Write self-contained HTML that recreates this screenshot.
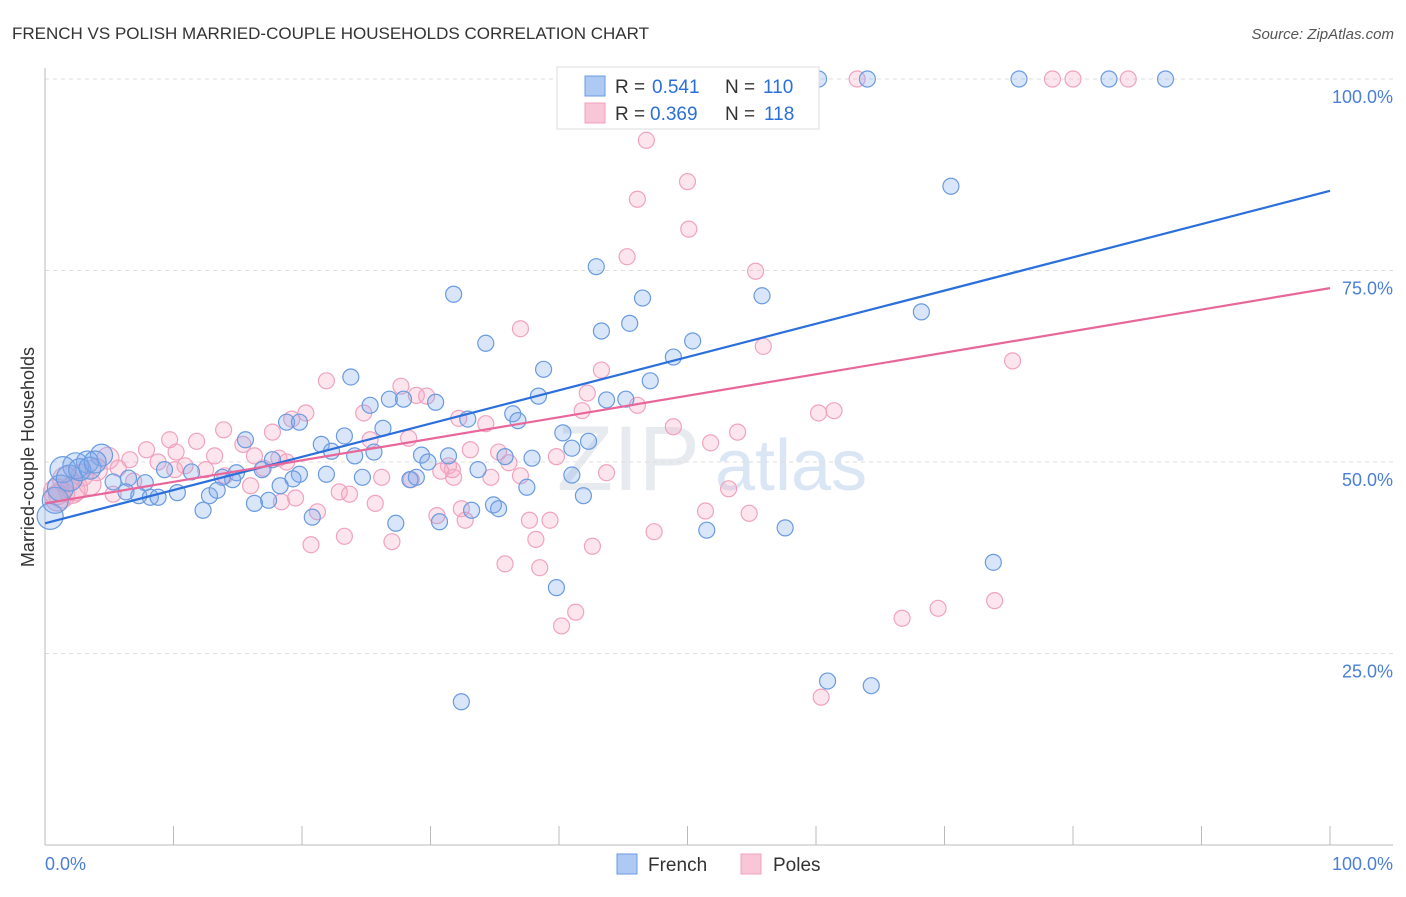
<!DOCTYPE html>
<html><head><meta charset="utf-8">
<style>
body{margin:0;background:#fff;font-family:"Liberation Sans",sans-serif;}
svg text{font-family:"Liberation Sans",sans-serif;}
</style></head>
<body>
<svg id="chart" width="1406" height="892" viewBox="0 0 1406 892" xmlns="http://www.w3.org/2000/svg">
<text x="12" y="39" font-size="17" fill="#333">FRENCH VS POLISH MARRIED-COUPLE HOUSEHOLDS CORRELATION CHART</text>
<text x="1394" y="39" font-size="15" fill="#555" text-anchor="end" font-style="italic">Source: ZipAtlas.com</text>
<text x="700" y="490" font-size="92" fill="#d8dde6" text-anchor="end" font-family="Liberation Serif" opacity="0.6">ZIP</text>
<text x="715" y="490" font-size="72" fill="#c4d6ef" opacity="0.6">atlas</text>
<g id="grid"></g>
<g id="axes"></g>
<g id="pts"></g>
<g id="lines"></g>
<text transform="translate(34,457) rotate(-90)" font-size="18" fill="#333" text-anchor="middle">Married-couple Households</text>
<g>
<rect x="557" y="67" width="262" height="62" fill="#fff" stroke="#ddd"/>
<rect x="585" y="76" width="20" height="20" fill="#aecaf3" stroke="#6a9be0"/>
<text x="615" y="93" font-size="19" fill="#333">R =</text>
<text x="652" y="93" font-size="19" fill="#2a6fdb">0.541</text>
<text x="725" y="93" font-size="19" fill="#333">N =</text>
<text x="763" y="93" font-size="19" fill="#2a6fdb">110</text>
<rect x="585" y="103" width="20" height="20" fill="#f8c6d6" stroke="#f0a0bc"/>
<text x="615" y="120" font-size="19" fill="#333">R =</text>
<text x="650" y="120" font-size="19" fill="#2a6fdb">0.369</text>
<text x="725" y="120" font-size="19" fill="#333">N =</text>
<text x="764" y="120" font-size="19" fill="#2a6fdb">118</text>
</g>
<g>
<rect x="617" y="854" width="20" height="20" fill="#aecaf3" stroke="#6a9be0"/>
<text x="648" y="871" font-size="19" fill="#333">French</text>
<rect x="741" y="854" width="20" height="20" fill="#f8c6d6" stroke="#f0a0bc"/>
<text x="773" y="871" font-size="19" fill="#333">Poles</text>
</g>
</svg>
<script>
const yTicks=[25,50,75,100];
const yTickLabels=["25.0%","50.0%","75.0%","100.0%"];
const xEndLabels=["0.0%","100.0%"];
const frenchX=[60.2,64.0,75.8,82.8,87.2,52.4,70.5,42.9,31.8,46.5,55.8,68.2,45.5,43.3,34.3,50.4,48.9,38.8,23.8,47.1,38.4,26.8,27.9,30.4,25.3,43.7,45.2,18.8,19.8,36.4,36.8,32.9,26.3,23.3,15.6,21.5,40.3,42.3,41.0,22.3,24.1,25.6,29.3,31.4,37.9,29.8,35.8,4.4,3.3,2.4,1.4,17.7,16.9,9.3,11.4,14.9,19.8,21.9,14.6,24.7,28.4,28.9,33.7,41.0,13.8,7.8,5.3,6.5,18.3,19.3,10.3,6.3,7.3,8.2,8.8,12.8,13.4,17.4,16.3,12.3,37.5,41.9,34.9,35.3,33.2,20.8,27.3,30.7,51.5,57.6,73.8,39.8,60.9,64.3,32.4,0.4,0.8,1.2,1.9,2.7,3.5,3.9];
const frenchY=[100,100,100,100,100,100,86.0,75.5,71.9,71.4,71.7,69.6,68.1,67.1,65.5,65.8,63.7,62.1,61.1,60.6,58.6,58.2,58.2,57.8,57.4,58.1,58.2,55.2,55.2,56.3,55.4,55.6,54.4,53.4,52.9,52.3,53.8,52.7,51.8,51.4,50.8,51.3,50.9,50.8,50.5,50.0,50.7,50.9,50.0,49.5,49.0,50.3,49.0,49.0,48.7,48.6,48.4,48.4,47.7,48.0,47.7,48.0,49.0,48.3,48.0,47.3,47.4,47.9,46.9,47.8,46.0,46.1,45.6,45.4,45.4,45.6,46.3,45.0,44.6,43.7,46.7,45.6,44.4,43.9,43.7,42.8,42.0,42.2,41.1,41.4,36.9,33.6,21.4,20.8,18.7,42.9,45.0,46.6,47.9,49.0,49.2,50.0];
const polesX=[63.2,78.4,80.0,84.3,54.1,46.8,50.0,46.1,50.1,45.3,55.3,37.0,55.9,43.3,75.3,21.9,27.7,28.9,29.7,42.2,46.1,41.8,61.4,60.2,20.3,24.8,19.2,32.2,34.3,48.9,53.9,13.9,17.7,28.3,25.3,9.7,11.8,15.4,7.9,10.2,51.8,33.1,35.3,39.8,36.1,13.2,16.3,18.2,18.8,6.6,4.9,5.7,8.8,10.1,10.9,12.5,31.4,31.7,30.8,31.8,34.7,37.0,43.7,26.2,28.5,17.0,14.0,4.0,2.9,1.6,6.9,2.3,0.9,1.0,5.3,16.0,22.9,23.7,19.5,25.7,18.4,53.2,32.4,51.4,54.8,30.5,32.7,37.7,39.3,21.2,47.4,23.3,27.0,38.2,20.7,42.6,35.8,38.5,41.3,40.2,66.7,69.5,73.9,60.4,2.1,1.3,3.5];
const polesY=[100,100,100,100,100,92.0,86.6,84.3,80.4,76.8,74.9,67.4,65.1,62.0,63.2,60.6,59.9,58.7,58.6,59.0,57.4,56.7,56.7,56.4,56.4,56.4,55.6,55.7,55.0,54.6,53.9,54.2,53.9,53.1,52.9,52.9,52.7,52.3,51.6,51.3,52.5,51.6,51.3,50.7,49.9,50.8,50.8,50.5,50.0,50.3,50.5,49.2,50.0,49.0,49.5,49.0,49.5,49.0,48.8,48.0,48.0,48.2,48.6,48.0,47.7,49.2,48.2,49.0,48.3,47.7,47.5,46.6,46.1,45.3,45.8,46.9,46.1,45.8,45.3,44.6,44.8,46.5,43.9,43.6,43.3,43.0,42.4,42.4,42.4,43.5,40.9,40.3,39.6,39.9,39.2,39.0,36.7,36.2,30.4,28.6,29.6,30.9,31.9,19.3,46.3,45.7,47.1];
const frenchTrend=[42.0,85.4];
const polesTrend=[44.6,72.7];

const NS="http://www.w3.org/2000/svg";
const X0=45,X1=1330,Y0=845,Y100=79;
function sx(v){return X0+(X1-X0)*v/100;}
function sy(v){return Y0-(Y0-Y100)*v/100;}
function mk(tag,attrs,parent){const e=document.createElementNS(NS,tag);for(const k in attrs)e.setAttribute(k,attrs[k]);parent.appendChild(e);return e;}
const grid=document.getElementById('grid'),axes=document.getElementById('axes'),pts=document.getElementById('pts'),lines=document.getElementById('lines');
yTicks.forEach((t,i)=>{
  const g=mk('line',{x1:X0,x2:1393,y1:sy(t),y2:sy(t),stroke:'#ddd','stroke-dasharray':'4,4'},grid);
  
  
  const tx=mk('text',{x:1393,y:sy(t)+24,'font-size':18,fill:'#4a7fd6','text-anchor':'end'},axes);
  tx.textContent=yTickLabels[i];
  
  
});
const ax=mk('line',{x1:X0,x2:X0,y1:68,y2:Y0,stroke:'#bbb'},axes);


const xa=mk('line',{x1:X0,x2:1393,y1:Y0,y2:Y0,stroke:'#bbb'},axes);


for(let i=0;i<=10;i++){
  const t=mk('line',{x1:sx(i*10),x2:sx(i*10),y1:826,y2:Y0,stroke:'#bbb'},axes);
  
  
}
const xl0=mk('text',{x:45,y:870,'font-size':18,fill:'#4a7fd6'},axes);xl0.textContent=xEndLabels[0];


const xl1=mk('text',{x:1393,y:870,'font-size':18,fill:'#4a7fd6','text-anchor':'end'},axes);xl1.textContent=xEndLabels[1];


function rad(x){return x<2.5?13:(x<5?11:8);}
function drawSeries(xs,ys,fill,stroke,name){
  xs.forEach((x,i)=>{
    const c=mk('circle',{cx:sx(x),cy:sy(ys[i]),r:rad(x),fill:fill,stroke:stroke,'stroke-width':1.2},pts);
    
    
  });
}
drawSeries(polesX,polesY,'rgba(244,170,196,0.3)','#f0a3bf','poles-point');
drawSeries(frenchX,frenchY,'rgba(130,170,235,0.3)','#6a9be0','french-point');
const l1=mk('line',{x1:sx(0),y1:sy(frenchTrend[0]),x2:sx(100),y2:sy(frenchTrend[1]),stroke:'#2a6fdb','stroke-width':2.2},lines);


const l2=mk('line',{x1:sx(0),y1:sy(polesTrend[0]),x2:sx(100),y2:sy(polesTrend[1]),stroke:'#e8679a','stroke-width':2.2},lines);


</script>
</body></html>
